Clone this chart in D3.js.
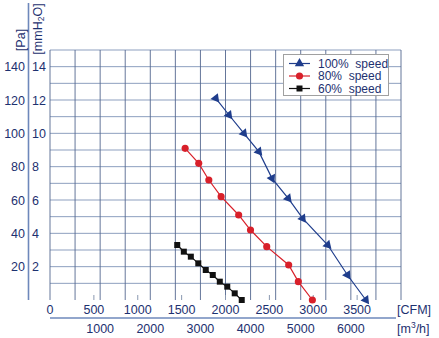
<!DOCTYPE html>
<html>
<head>
	<meta charset="utf-8">
	<style>
		body { margin: 0; background: #fff; }
		svg text { font-family: "Liberation Sans", Arial, sans-serif; fill: #1d3170; }
	</style>
</head>
<body>
	<svg id="chart" width="439" height="338"></svg>
	<script src="https://d3js.org/d3.v7.min.js"></script>
	<script>
		"use strict";

		// series (CFM, Pa)
		var cfm100 = [1890, 2040, 2210, 2380, 2530, 2715, 2880, 3165, 3390, 3600];
		var pa100  = [121, 111, 100, 89, 73, 61, 49, 33, 15, 0];
		var cfm80  = [1540, 1695, 1810, 1950, 2150, 2285, 2470, 2720, 2830, 2990];
		var pa80   = [91, 82, 72, 62, 51, 42, 32, 21, 11, 0];
		var cfm60  = [1450, 1525, 1605, 1690, 1775, 1855, 1935, 2020, 2105, 2185];
		var pa60   = [33, 29, 26, 22, 18, 15, 11, 8, 4, 0];

		var seriesNames = ["100%  speed", "80%  speed", "60%  speed"];

		var paTicks = [20, 40, 60, 80, 100, 120, 140];
		var mmTicks = [2, 4, 6, 8, 10, 12, 14];
		var cfmTicks = [0, 500, 1000, 1500, 2000, 2500, 3000, 3500];
		var m3hTicks = [1000, 2000, 3000, 4000, 5000, 6000];

		var svg = d3.select("#chart");
		var plotL = 50, plotR = 401, plotT = 50, plotB = 300;

		var x = d3.scaleLinear().domain([0, 4000]).range([plotL, plotR]);   // CFM
		var xm = d3.scaleLinear().domain([0, 7000]).range([plotL, plotR]);  // m3/h
		var y = d3.scaleLinear().domain([0, 150]).range([plotB, plotT]);    // Pa
		var ym = d3.scaleLinear().domain([0, 15]).range([plotB, plotT]);    // mmH2O

		// grid (verticals darker than horizontals in the original)
		var grid = svg.append("g");
		grid.selectAll("line.h")
			.data(d3.range(10, 151, 10))
			.enter().append("line")
			.attr("x1", plotL).attr("x2", plotR)
			.attr("y1", function(d){ return y(d); })
			.attr("y2", function(d){ return y(d); })
			.attr("stroke", "#8d9fbf").attr("stroke-width", 1);
		grid.selectAll("line.v")
			.data(d3.range(0, 7001, 500))
			.enter().append("line")
			.attr("x1", function(d){ return xm(d); })
			.attr("x2", function(d){ return xm(d); })
			.attr("y1", plotT).attr("y2", plotB)
			.attr("stroke", "#53678f").attr("stroke-width", 0.9);

		// small cfm ticks at the bottom of the plot
		grid.selectAll("line.t")
			.data(cfmTicks.slice(1))
			.enter().append("line")
			.attr("x1", function(d){ return x(d); })
			.attr("x2", function(d){ return x(d); })
			.attr("y1", plotB - 5).attr("y2", plotB)
			.attr("stroke", "#8a98b0").attr("stroke-width", 1);

		// left axis line between the two label columns
		svg.append("line")
			.attr("x1", 28.5).attr("x2", 28.5).attr("y1", 3).attr("y2", plotB)
			.attr("stroke", "#6e88bb").attr("stroke-width", 1.6);

		// y labels
		svg.selectAll("text.pa")
			.data(paTicks)
			.enter().append("text")
			.attr("x", 25).attr("y", function(d){ return y(d) + 4.5; })
			.attr("text-anchor", "end").attr("font-size", 12.5)
			.text(function(d){ return d; });
		svg.selectAll("text.mm")
			.data(mmTicks)
			.enter().append("text")
			.attr("x", 32).attr("y", function(d){ return ym(d) + 4.5; })
			.attr("font-size", 12.5)
			.text(function(d){ return d; });

		svg.append("text")
			.attr("transform", "translate(24.5,40) rotate(-90)")
			.attr("text-anchor", "middle").attr("font-size", 12.5)
			.text("[Pa]");
		var mmLabel = svg.append("text")
			.attr("transform", "translate(41.5,29) rotate(-90)")
			.attr("text-anchor", "middle").attr("font-size", 12.5);
		mmLabel.append("tspan").text("[mmH");
		mmLabel.append("tspan").attr("font-size", 8.5).attr("dy", 2).text("2");
		mmLabel.append("tspan").attr("dy", -2).text("O]");

		// x labels
		svg.selectAll("text.cfm")
			.data(cfmTicks)
			.enter().append("text")
			.attr("x", function(d){ return x(d); }).attr("y", 314)
			.attr("text-anchor", "middle").attr("font-size", 12.5)
			.text(function(d){ return d; });
		svg.append("line")
			.attr("x1", plotL).attr("x2", 396).attr("y1", 318).attr("y2", 318)
			.attr("stroke", "#6e88bb").attr("stroke-width", 1.6);
		svg.selectAll("text.m3h")
			.data(m3hTicks)
			.enter().append("text")
			.attr("x", function(d){ return xm(d); }).attr("y", 333)
			.attr("text-anchor", "middle").attr("font-size", 12.5)
			.text(function(d){ return d; });
		svg.append("text").attr("x", 397).attr("y", 314).attr("font-size", 12.5).text("[CFM]");
		var m3Label = svg.append("text").attr("x", 397).attr("y", 333).attr("font-size", 12.5);
		m3Label.append("tspan").text("[m");
		m3Label.append("tspan").attr("font-size", 8.5).attr("dy", -5).text("3");
		m3Label.append("tspan").attr("dy", 5).text("/h]");

		// series
		var series = [
			{ name: seriesNames[0], cfm: cfm100, pa: pa100, color: "#1f3d8c", symbol: d3.symbolTriangle, size: 38 },
			{ name: seriesNames[1], cfm: cfm80, pa: pa80, color: "#d8202a", symbol: d3.symbolCircle, size: 40 },
			{ name: seriesNames[2], cfm: cfm60, pa: pa60, color: "#111111", symbol: d3.symbolSquare, size: 36 }
		];

		var line = d3.line()
			.x(function(d){ return x(d[0]); })
			.y(function(d){ return y(d[1]); });

		series.forEach(function(s){
			var pts = d3.zip(s.cfm, s.pa);
			svg.append("path")
				.attr("d", line(pts))
				.attr("fill", "none").attr("stroke", s.color).attr("stroke-width", 1.2);
			svg.selectAll(null)
				.data(pts)
				.enter().append("path")
				.attr("d", d3.symbol().type(s.symbol).size(s.size))
				.attr("fill", s.color)
				.attr("transform", function(d, i){
					var t = "translate(" + x(d[0]) + "," + y(d[1]) + ")";
					if (s.symbol === d3.symbolTriangle) {
						// triangles point along the curve
						var a = pts[Math.max(i - 1, 0)], b = pts[Math.max(i, 1)];
						var ang = Math.atan2(y(b[1]) - y(a[1]), x(b[0]) - x(a[0])) * 180 / Math.PI;
						t += " rotate(" + (ang + 90) + ")";
					}
					return t;
				});
		});

		// legend
		var lg = svg.append("g");
		lg.append("rect")
			.attr("x", 283.5).attr("y", 54.5).attr("width", 105).attr("height", 41)
			.attr("fill", "#fff").attr("stroke", "#a0a0a0").attr("stroke-width", 1);
		series.forEach(function(s, i){
			var ly = 63.5 + i * 12.5;
			lg.append("line")
				.attr("x1", 289).attr("x2", 310).attr("y1", ly).attr("y2", ly)
				.attr("stroke", s.color).attr("stroke-width", 1.2);
			lg.append("path")
				.attr("d", d3.symbol().type(s.symbol).size(s.size))
				.attr("fill", s.color)
				.attr("transform", "translate(299.5," + ly + ")");
			lg.append("text")
				.attr("x", 318).attr("y", ly + 4)
				.attr("font-size", 12)
				.attr("xml:space", "preserve")
				.style("white-space", "pre")
				.text(s.name);
		});
	</script>
</body>
</html>
